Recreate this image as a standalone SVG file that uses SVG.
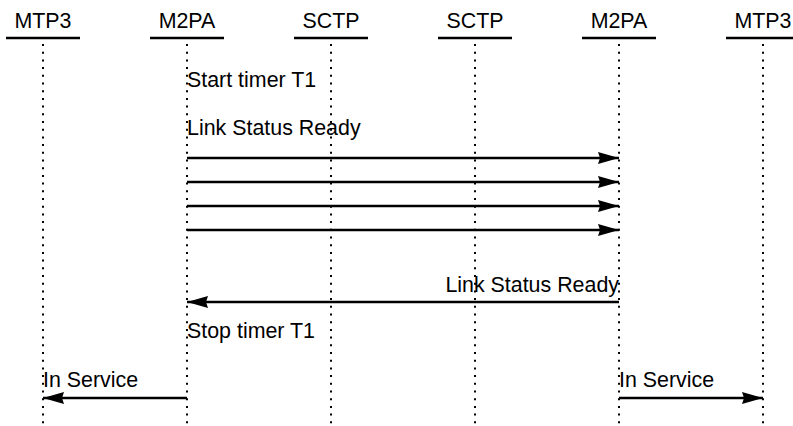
<svg xmlns="http://www.w3.org/2000/svg" width="793" height="426" viewBox="0 0 793 426">
<style>
text{font-family:"Liberation Sans",Arial,sans-serif;font-size:21.4px;fill:#000}
.hdr{text-anchor:middle}
.hl{stroke:#000;stroke-width:2.5}
.life{stroke:#000;stroke-width:2;stroke-dasharray:2 5.7}
.msg{stroke:#000;stroke-width:2.5;fill:none;marker-end:url(#ah)}
</style>
<defs>
<marker id="ah" markerUnits="userSpaceOnUse" markerWidth="22" markerHeight="14" refX="21" refY="7" orient="auto" viewBox="0 0 22 14">
<path d="M0,1 L21,7 L0,13 L2,7 z" fill="#000"/>
</marker>
</defs>
<rect width="793" height="426" fill="#fff"/>
<g id="n-mtp3-a"><text class="hdr" x="43" y="28">MTP3</text><line class="hl" x1="6" y1="38" x2="80" y2="38"/><line class="life" x1="43" y1="44" x2="43" y2="426"/></g>
<g id="n-m2pa-a"><text class="hdr" x="187" y="28">M2PA</text><line class="hl" x1="150" y1="38" x2="224" y2="38"/><line class="life" x1="187" y1="44" x2="187" y2="426"/></g>
<g id="n-sctp-a"><text class="hdr" x="331" y="28">SCTP</text><line class="hl" x1="294" y1="38" x2="368" y2="38"/><line class="life" x1="331" y1="44" x2="331" y2="426"/></g>
<g id="n-sctp-b"><text class="hdr" x="475" y="28">SCTP</text><line class="hl" x1="438" y1="38" x2="512" y2="38"/><line class="life" x1="475" y1="44" x2="475" y2="426"/></g>
<g id="n-m2pa-b"><text class="hdr" x="619" y="28">M2PA</text><line class="hl" x1="582" y1="38" x2="656" y2="38"/><line class="life" x1="619" y1="44" x2="619" y2="426"/></g>
<g id="n-mtp3-b"><text class="hdr" x="763" y="28">MTP3</text><line class="hl" x1="726" y1="38" x2="800" y2="38"/><line class="life" x1="763" y1="44" x2="763" y2="426"/></g>
<g id="connectors">
<line class="msg" x1="187" y1="158" x2="619" y2="158"/>
<line class="msg" x1="187" y1="182" x2="619" y2="182"/>
<line class="msg" x1="187" y1="206" x2="619" y2="206"/>
<line class="msg" x1="187" y1="230" x2="619" y2="230"/>
<line class="msg" x1="619" y1="302" x2="187" y2="302"/>
<line class="msg" x1="187" y1="398" x2="43" y2="398"/>
<line class="msg" x1="619" y1="398" x2="763" y2="398"/>
</g>
<g id="labels">
<text x="187" y="87">Start timer T1</text>
<text x="187" y="135">Link Status Ready</text>
<text x="619" y="292" text-anchor="end">Link Status Ready</text>
<text x="187" y="338">Stop timer T1</text>
<text x="43" y="387">In Service</text>
<text x="619" y="387">In Service</text>
</g>
</svg>
